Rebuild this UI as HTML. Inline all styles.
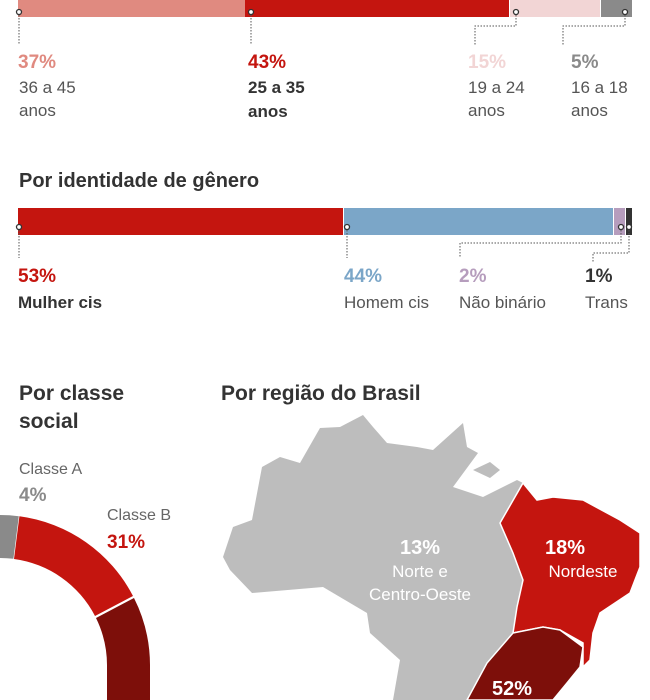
<!DOCTYPE html>
<html><head><meta charset="utf-8"><style>
body{margin:0;width:650px;height:700px;background:#fff;overflow:hidden;font-family:"Liberation Sans",sans-serif}
svg{display:block}
</style></head><body>
<svg width="650" height="700" viewBox="0 0 650 700" font-family="Liberation Sans, sans-serif">
<!-- age bar -->
<rect x="18" y="0" width="227" height="17" fill="#e08a80"/>
<rect x="245" y="0" width="264" height="17" fill="#c4150f"/>
<rect x="510" y="0" width="90" height="17" fill="#f2d5d5"/>
<rect x="601" y="0" width="31" height="17" fill="#8a8a8a"/>
<g stroke="#555" stroke-dasharray="1.5,1.5" fill="none" stroke-width="1">
<path d="M19,12V45"/><path d="M251,12V45"/><path d="M516,12V26H475V45"/><path d="M625,12V26H563V45"/>
</g>
<g fill="#fff" stroke="#333" stroke-width="1.3">
<circle cx="19" cy="12" r="2.5"/><circle cx="251" cy="12" r="2.5"/><circle cx="516" cy="12" r="2.5"/><circle cx="625" cy="12" r="2.5"/>
</g>
<g font-size="19" font-weight="bold">
<text x="18" y="68" fill="#e08a80">37%</text><text x="248" y="68" fill="#c4150f">43%</text>
<text x="468" y="68" fill="#f2d5d5">15%</text><text x="571" y="68" fill="#8a8a8a">5%</text>
</g>
<g font-size="17" fill="#555">
<text x="19" y="93">36 a 45</text><text x="19" y="116">anos</text>
<text x="468" y="93">19 a 24</text><text x="468" y="116">anos</text>
<text x="571" y="93">16 a 18</text><text x="571" y="116">anos</text>
</g>
<g font-size="17" fill="#333" font-weight="bold"><text x="248" y="93">25 a 35</text><text x="248" y="117">anos</text></g>

<text x="19" y="187" font-size="20" font-weight="bold" fill="#333">Por identidade de gênero</text>
<rect x="18" y="208" width="325" height="27" fill="#c4150f"/>
<rect x="344" y="208" width="269" height="27" fill="#7ba6c8"/>
<rect x="614" y="208" width="11" height="27" fill="#b69dbd"/>
<rect x="626" y="208" width="6" height="27" fill="#333"/>
<g stroke="#555" stroke-dasharray="1.5,1.5" fill="none">
<path d="M19,227V258"/><path d="M347,227V258"/><path d="M621,227V243H460V258"/><path d="M629,227V253H593V262"/>
</g>
<g fill="#fff" stroke="#333" stroke-width="1.3">
<circle cx="19" cy="227" r="2.5"/><circle cx="347" cy="227" r="2.5"/><circle cx="621" cy="227" r="2.5"/><circle cx="629" cy="227" r="2.5"/>
</g>
<g font-size="19" font-weight="bold">
<text x="18" y="282" fill="#c4150f">53%</text><text x="344" y="282" fill="#7ba6c8">44%</text>
<text x="459" y="282" fill="#b69dbd">2%</text><text x="585" y="282" fill="#333">1%</text>
</g>
<text x="18" y="308" font-size="17" font-weight="bold" fill="#333">Mulher cis</text>
<g font-size="17" fill="#555"><text x="344" y="308">Homem cis</text><text x="459" y="308">Não binário</text><text x="585" y="308">Trans</text></g>

<g font-size="21" font-weight="bold" fill="#333">
<text x="19" y="400">Por classe</text><text x="19" y="428">social</text>
<text x="221" y="400">Por região do Brasil</text>
</g>
<text x="19" y="474" font-size="16" fill="#666">Classe A</text>
<text x="19" y="501" font-size="19" font-weight="bold" fill="#8a8a8a">4%</text>
<text x="107" y="520" font-size="16" fill="#666">Classe B</text>
<text x="107" y="548" font-size="19" font-weight="bold" fill="#c4150f">31%</text>
<!-- donut center (0,665) r 150/107 -->
<path d="M0,515 A150,150 0 0 1 18.8,516.2 L13.4,558.8 A107,107 0 0 0 0,558 Z" fill="#8a8a8a"/>
<path d="M-10,515 A150,150 0 0 1 0,515 L0,558 A107,107 0 0 0 -10,558 Z" fill="#8a8a8a"/>
<path d="M19.4,516.3 A150,150 0 0 1 133,596 L95,616 A107,107 0 0 0 14,559 Z" fill="#c4150f"/>
<path d="M134,598 A150,150 0 0 1 150,665 L150,720 L107,720 L107,665 A107,107 0 0 0 96,618 Z" fill="#7d0f0a"/>
<!-- map -->
<path d="M223,557 L233,527 L252,520 L262,467 L280,457 L300,463 L320,428 L340,427 L363,415 L373,427 L387,443 L417,447 L433,450 L463,423 L467,447 L478,453 L453,487 L483,497 L517,480 L523,483 L500,523 L513,553 L523,580 L517,607 L513,633 L507,640 L487,663 L467,700 L393,700 L400,660 L370,633 L367,613 L323,587 L252,593 L230,570 Z" fill="#bdbdbd"/>
<path d="M473,470 L490,462 L500,470 L490,478 Z" fill="#bdbdbd"/>
<path d="M523,483 L537,500 L553,497 L583,500 L620,520 L640,533 L640,567 L630,593 L600,613 L593,633 L590,660 L583,667 L583,643 L560,630 L543,627 L513,633 L517,607 L523,580 L513,553 L500,523 Z" fill="#c4150f" stroke="#fff" stroke-width="1.5"/>
<path d="M513,633 L543,627 L560,630 L583,647 L580,667 L567,683 L553,700 L467,700 L487,663 Z" fill="#7d0f0a" stroke="#fff" stroke-width="1.5"/>
<g fill="#fff" text-anchor="middle">
<text x="420" y="554" font-size="20" font-weight="bold">13%</text>
<text x="420" y="577" font-size="17">Norte e</text>
<text x="420" y="600" font-size="17">Centro-Oeste</text>
<text x="565" y="554" font-size="20" font-weight="bold">18%</text>
<text x="583" y="577" font-size="17">Nordeste</text>
<text x="512" y="695" font-size="20" font-weight="bold">52%</text>
</g>
</svg>
</body></html>
